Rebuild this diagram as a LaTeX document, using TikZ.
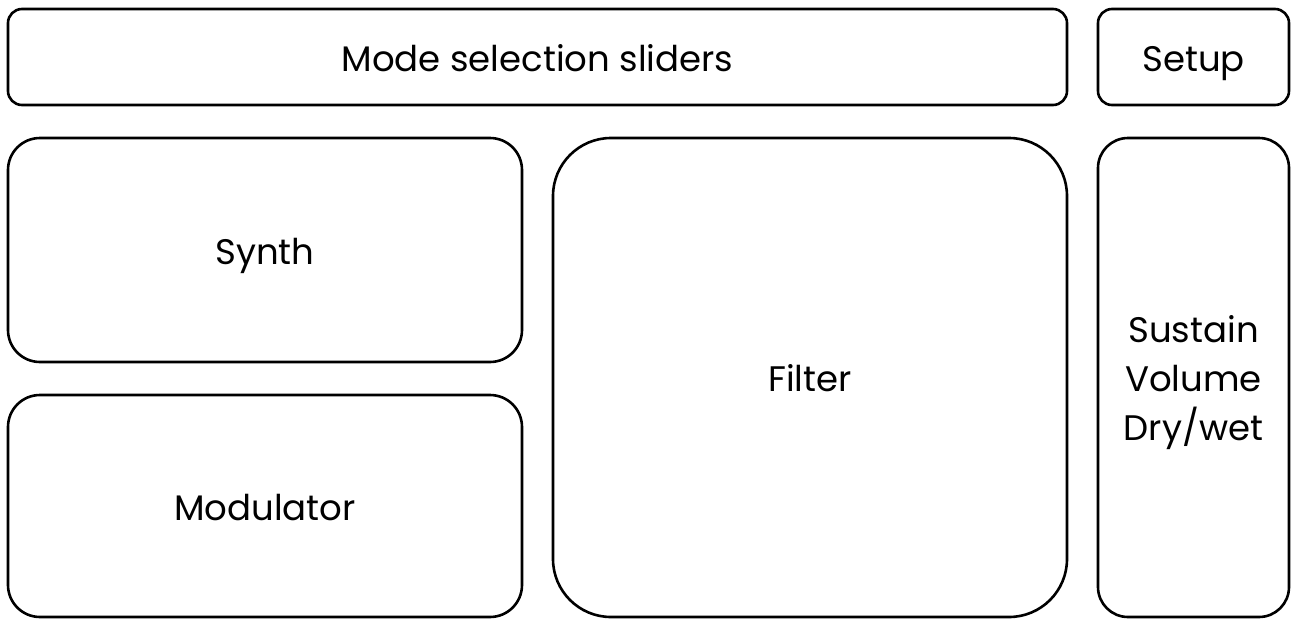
\documentclass[tikz,border=0pt]{standalone}
\usepackage{fontspec}
\setmainfont{Poppins}
\begin{document}
\begin{tikzpicture}[x=1pt,y=-1pt,
  panel/.style={draw=black,line width=2.6pt,rectangle,inner sep=0pt},
  txt/.style={font=\fontsize{35.5}{49}\selectfont,align=center,inner sep=0pt,yshift=-5pt},
  one/.style={txt,text height=26pt,text depth=8pt}]
\useasboundingbox (0,0) rectangle (1291,619);
\node[panel,rounded corners=14pt,minimum width=1059pt,minimum height=96pt,label={[one]center:Mode selection sliders}] (mode) at (537.5,57) {};
\node[panel,rounded corners=14pt,minimum width=191pt,minimum height=96pt,label={[one]center:Setup}] (setup) at (1193.5,57) {};
\node[panel,rounded corners=32pt,minimum width=514pt,minimum height=224pt,label={[one]center:Synth}] (synth) at (265,250) {};
\node[panel,rounded corners=32pt,minimum width=514pt,minimum height=222pt,label={[one]center:Modulator}] (mod) at (265,506) {};
\node[panel,rounded corners=58pt,minimum width=514pt,minimum height=479pt,label={[one]center:Filter}] (filter) at (810,377.5) {};
\node[panel,rounded corners=30pt,minimum width=191pt,minimum height=479pt,label={[txt]center:Sustain\\Volume\\Dry/wet}] (side) at (1193.5,377.5) {};
\end{tikzpicture}
\end{document}
